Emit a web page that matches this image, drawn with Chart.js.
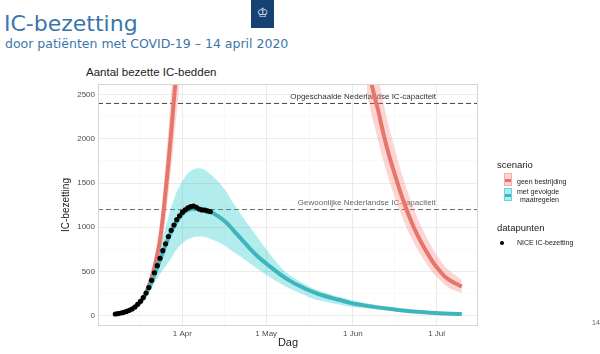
<!DOCTYPE html>
<html>
<head>
<meta charset="utf-8">
<script src="https://cdn.jsdelivr.net/npm/chart.js@4"></script>
<style>
  body { margin: 0; width: 600px; height: 354px; position: relative; overflow: hidden; background: #fff; font-family: "Liberation Sans", Arial, sans-serif; }
  .abs { position: absolute; line-height: 1; white-space: nowrap; }
  #title { left: 4px; top: 13px; font-family: "DejaVu Sans", sans-serif; font-size: 22px; color: #3a76ab; }
  #sub { left: 5px; top: 38px; font-family: "DejaVu Sans", sans-serif; font-size: 12.5px; color: #3a76ab; }
  #logo { left: 251px; top: 0; width: 23px; height: 28px; background: #154273; color: #e8ecf2; font-family: "DejaVu Sans", sans-serif; font-size: 13px; text-align: center; line-height: 26px; }
  #ctitle { left: 86px; top: 67px; font-size: 11.5px; color: #222; }
  #chart { position: absolute; left: 0; top: 0; }
  .lg-title { font-size: 9.5px; color: #222; }
  .lg-text { font-size: 7px; color: #222; }
  .key { position: absolute; width: 8px; height: 13px; box-sizing: border-box; }
  .key i { position: absolute; left: 0; right: 0; top: 5px; height: 3px; }
  #page { left: 592px; top: 319px; font-size: 7px; color: #666; }
</style>
</head>
<body>
<div id="logo" class="abs">♔</div>
<div id="title" class="abs">IC-bezetting</div>
<div id="sub" class="abs">door patiënten met COVID-19 – 14 april 2020</div>
<div id="ctitle" class="abs">Aantal bezette IC-bedden</div>
<canvas id="chart" width="600" height="354"></canvas>

<div class="abs lg-title" style="left:497px;top:160px;">scenario</div>
<div class="key" style="left:504px;top:173px;background:rgba(248,118,109,0.3);border:1px solid rgba(248,118,109,0.45);"><i style="background:#e6766c"></i></div>
<div class="key" style="left:504px;top:188px;background:rgba(0,191,196,0.3);border:1px solid rgba(0,191,196,0.45);"><i style="background:#3db5bc"></i></div>
<div class="abs lg-text" style="left:517px;top:178px;">geen bestrijding</div>
<div class="abs lg-text" style="left:517px;top:188px;">met gevolgde</div>
<div class="abs lg-text" style="left:520px;top:196px;">maatregelen</div>
<div class="abs lg-title" style="left:497px;top:223px;">datapunten</div>
<div class="abs" style="left:500px;top:241px;width:4px;height:4px;border-radius:50%;background:#000;"></div>
<div class="abs lg-text" style="left:517px;top:239px;">NICE IC-bezetting</div>
<div id="page" class="abs">14</div>

<script>
// days are counted from 1 April 2020 (day 0)
const niceDays = [-24, -23, -22, -21, -20, -19, -18, -17, -16, -15, -14, -13, -12, -11, -10, -9, -8, -7, -6, -5, -4, -3, -2, -1, 0, 1, 2, 3, 4, 5, 6, 7, 8, 9, 10];
const niceValues = [19, 24, 30, 38, 48, 60, 75, 98, 128, 162, 205, 255, 318, 400, 485, 565, 649, 735, 812, 895, 965, 1025, 1085, 1130, 1170, 1197, 1218, 1232, 1240, 1225, 1205, 1196, 1194, 1185, 1177];

const measuresDays = [-24, -20, -16, -14, -12, -10, -8, -6, -4, -2, 0, 2, 4, 6, 8, 10, 13, 16, 18, 20, 22, 24, 27, 30, 33, 36, 39, 42, 45, 48, 51, 54, 57, 60, 64, 68, 72, 76, 80, 84, 88, 92, 96, 100];
const measuresMid = [19, 45, 120, 195, 310, 460, 630, 800, 950, 1070, 1150, 1195, 1210, 1205, 1195, 1175, 1120, 1045, 975, 905, 835, 765, 670, 590, 515, 445, 385, 335, 290, 253, 222, 195, 172, 145, 122, 102, 85, 70, 55, 44, 35, 27, 22, 19];
const measuresLow = [17, 40, 105, 170, 260, 370, 470, 560, 650, 750, 820, 865, 890, 895, 890, 870, 830, 775, 725, 685, 640, 595, 525, 462, 400, 348, 298, 255, 215, 180, 158, 140, 120, 102, 88, 75, 63, 52, 42, 34, 28, 22, 18, 16];
const measuresHigh = [21, 50, 135, 220, 360, 560, 780, 1000, 1220, 1400, 1520, 1610, 1655, 1667, 1650, 1600, 1510, 1390, 1280, 1190, 1100, 1010, 880, 750, 630, 520, 445, 385, 335, 292, 260, 232, 205, 180, 152, 128, 107, 88, 70, 56, 45, 35, 29, 25];

// no-control scenario: the peak lies far above the plotted range (null = not shown)
const noControlDays = [-24, -20, -16, -14, -12, -11, -10, -9, -8, -7, -6, -5, -4, -3, -2, -1, 30, 66, 68, 70, 72, 74, 76, 78, 80, 82, 84, 86, 88, 90, 92, 94, 96, 98, 100];
const noControlMid = [19, 45, 125, 200, 340, 440, 545, 688, 856, 1108, 1409, 1723, 2076, 2450, 2800, 3150, null, 2900, 2580, 2330, 2050, 1810, 1600, 1400, 1220, 1060, 920, 800, 690, 590, 510, 440, 395, 360, 328];
const noControlLow = [17, 39, 105, 165, 280, 355, 440, 550, 690, 880, 1120, 1380, 1670, 1990, 2300, 2620, null, 2520, 2230, 1990, 1740, 1530, 1340, 1170, 1010, 875, 755, 650, 555, 470, 405, 345, 305, 278, 255];
const noControlHigh = [21, 51, 145, 235, 405, 530, 660, 835, 1040, 1350, 1720, 2100, 2530, 2990, 3420, 3850, null, 3330, 2980, 2720, 2400, 2130, 1890, 1660, 1460, 1280, 1115, 975, 850, 735, 640, 555, 500, 450, 404];

const capacityLevels = [2400, 1200];
const capacityLabels = ["Opgeschaalde Nederlandse IC-capaciteit", "Gewoonlijke Nederlandse IC-capaciteit"];
const capacityLabelDays = [64.7, 66];

const xTickDays = [0, 30, 61, 91];
const xTickLabels = ["1 Apr", "1 May", "1 Jun", "1 Jul"];
const xMinorDays = [-15.5, 15, 45.5, 76];
const yTickValues = [0, 500, 1000, 1500, 2000, 2500];
const yMinorValues = [250, 750, 1250, 1750, 2250];

const X_MIN = -30.2, X_MAX = 105.8;
const Y_MIN = -117, Y_MAX = 2620;

const RED = "#e6766c";
const RED_BAND = "rgba(248,118,109,0.3)";
const BLUE = "#3db5bc";
const BLUE_BAND = "rgba(0,191,196,0.3)";
const NONE = "rgba(0,0,0,0)";

function toPoints(days, values) {
  return days.map((d, i) => ({ x: d, y: values[i] }));
}

function curve(days, values, color, width, order, extra) {
  return Object.assign({
    data: toPoints(days, values),
    borderColor: color,
    borderWidth: width,
    pointRadius: 0,
    fill: false,
    cubicInterpolationMode: "monotone",
    clip: 0,
    order: order,
  }, extra || {});
}

const datasets = [
  {
    label: "NICE IC-bezetting",
    data: toPoints(niceDays, niceValues),
    showLine: false,
    pointRadius: 2.6,
    pointBackgroundColor: "#000",
    pointBorderWidth: 0,
    clip: 0,
    order: 0,
  },
  curve(measuresDays, measuresMid, BLUE, 4, 1),
];

// band: upper edge filled down to the lower edge (next dataset)
function addBand(days, low, high, color) {
  const idx = datasets.length;
  datasets.push(curve(days, high, NONE, 0, 2, { fill: idx + 1, backgroundColor: color }));
  datasets.push(curve(days, low, NONE, 0, 2));
}

addBand(measuresDays, measuresLow, measuresHigh, BLUE_BAND);

// the no-control curve is drawn as its two visible parts, split at the gap
const gap = noControlMid.indexOf(null);
[[0, gap], [gap + 1, noControlDays.length]].forEach(([a, b]) => {
  const days = noControlDays.slice(a, b);
  datasets.push(curve(days, noControlMid.slice(a, b), RED, 4, 1));
  addBand(days, noControlLow.slice(a, b), noControlHigh.slice(a, b), RED_BAND);
});

capacityLevels.forEach((lvl, i) => {
  datasets.push({
    data: [{ x: X_MIN, y: lvl }, { x: X_MAX, y: lvl }],
    borderColor: i === 0 ? "#444" : "#6e6e6e",
    borderWidth: 1,
    borderDash: [5, 3],
    pointRadius: 0,
    fill: false,
    clip: 0,
    order: 3,
  });
});

const capacityTextPlugin = {
  id: "capacityText",
  beforeDatasetsDraw(chart) {
    const { ctx, scales } = chart;
    ctx.save();
    ctx.font = "8px 'Liberation Sans', Arial, sans-serif";
    ctx.textAlign = "center";
    ctx.textBaseline = "middle";
    capacityLevels.forEach((lvl, i) => {
      ctx.fillStyle = i === 0 ? "#333" : "#666";
      ctx.fillText(capacityLabels[i], scales.x.getPixelForValue(capacityLabelDays[i]), scales.y.getPixelForValue(lvl) - 6.5);
    });
    ctx.restore();
  },
};

const panelBorderPlugin = {
  id: "panelBorder",
  afterDraw(chart) {
    const { ctx, chartArea: a } = chart;
    ctx.save();
    ctx.strokeStyle = "#d6d6d6";
    ctx.lineWidth = 1;
    ctx.strokeRect(a.left + 0.5, a.top + 0.5, a.right - a.left - 1, a.bottom - a.top - 1);
    ctx.restore();
  },
};

const tickFont = { family: "'Liberation Sans', Arial, sans-serif", size: 8 };

new Chart(document.getElementById("chart"), {
  type: "line",
  data: { datasets },
  plugins: [capacityTextPlugin, panelBorderPlugin],
  options: {
    responsive: false,
    animation: false,
    layout: { padding: { left: 58, top: 84, right: 122, bottom: 0 } },
    plugins: { legend: { display: false }, tooltip: { enabled: false } },
    scales: {
      x: {
        type: "linear",
        min: X_MIN,
        max: X_MAX,
        afterBuildTicks(scale) {
          scale.ticks = xMinorDays.concat(xTickDays).sort((a, b) => a - b).map((v) => ({ value: v }));
        },
        afterFit(scale) { scale.height = 28; },
        ticks: {
          autoSkip: false,
          maxRotation: 0,
          padding: 3,
          color: "#4d4d4d",
          font: tickFont,
          callback: (v) => {
            const i = xTickDays.indexOf(v);
            return i >= 0 ? xTickLabels[i] : "";
          },
        },
        grid: {
          drawTicks: false,
          color: (c) => (xTickDays.includes(c.tick && c.tick.value) ? "#ebebeb" : "#f5f5f5"),
          lineWidth: (c) => (xTickDays.includes(c.tick && c.tick.value) ? 1 : 0.6),
        },
        border: { display: false },
        title: {
          display: true,
          text: "Dag",
          color: "#222",
          font: { family: "'Liberation Sans', Arial, sans-serif", size: 11 },
          padding: { top: 0, bottom: 4 },
        },
      },
      y: {
        type: "linear",
        min: Y_MIN,
        max: Y_MAX,
        afterBuildTicks(scale) {
          scale.ticks = yMinorValues.concat(yTickValues).sort((a, b) => a - b).map((v) => ({ value: v }));
        },
        afterFit(scale) { scale.width = 40; },
        ticks: {
          padding: 3,
          color: "#4d4d4d",
          font: tickFont,
          callback: (v) => (yTickValues.includes(v) ? String(v) : ""),
        },
        grid: {
          drawTicks: false,
          color: (c) => (yTickValues.includes(c.tick && c.tick.value) ? "#ebebeb" : "#f5f5f5"),
          lineWidth: (c) => (yTickValues.includes(c.tick && c.tick.value) ? 1 : 0.6),
        },
        border: { display: false },
        title: {
          display: true,
          text: "IC-bezetting",
          color: "#222",
          font: { family: "'Liberation Sans', Arial, sans-serif", size: 10 },
          padding: { top: 2, bottom: 0 },
        },
      },
    },
  },
});
</script>
</body>
</html>
